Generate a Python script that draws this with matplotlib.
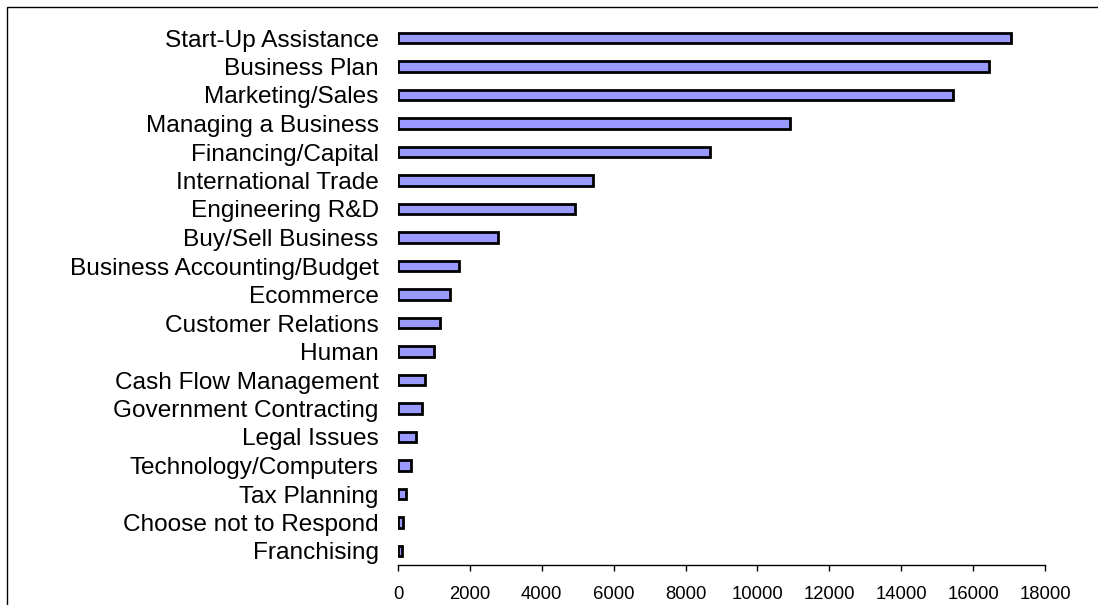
import matplotlib
matplotlib.use("Agg")
import matplotlib.pyplot as plt
from matplotlib.patches import Rectangle

categories = [
    "Start-Up Assistance", "Business Plan", "Marketing/Sales", "Managing a Business",
    "Financing/Capital", "International Trade", "Engineering R&D", "Buy/Sell Business",
    "Business Accounting/Budget", "Ecommerce", "Customer Relations", "Human",
    "Cash Flow Management", "Government Contracting", "Legal Issues",
    "Technology/Computers", "Tax Planning", "Choose not to Respond", "Franchising",
]
values = [17050, 16450, 15450, 10900, 8680, 5420, 4920, 2770, 1710, 1450,
          1160, 1000, 750, 660, 500, 360, 230, 150, 100]
xticks = [0, 2000, 4000, 6000, 8000, 10000, 12000, 14000, 16000, 18000]

plt.rcParams['font.family'] = ['Liberation Sans', 'DejaVu Sans']

W, H = 1098, 605
fig = plt.figure(figsize=(W / 100, H / 100), dpi=100)
ax = fig.add_axes([398 / W, 1 - 565.25 / H, (1045 - 398) / W, (565.25 - 23.75) / H])

ypos = list(range(len(categories)))
ax.barh(ypos, values, height=0.37, color="#9999FF", edgecolor="black", linewidth=2)
ax.set_ylim(len(categories) - 0.5, -0.5)
ax.set_xlim(0, 18000)
ax.set_yticks(ypos)
ax.set_yticklabels(categories, fontsize=17.6)
ax.set_xticks(xticks)
ax.set_xticklabels([str(t) for t in xticks], fontsize=13.3)
ax.tick_params(axis="y", length=0, pad=14)
ax.tick_params(axis="x", direction="out", length=4, width=1, pad=11, color="black")
for s in ["top", "right", "left"]:
    ax.spines[s].set_visible(False)
ax.spines["bottom"].set_linewidth(1)

# outer chart border (cropped on right and bottom)
fig.patches.append(Rectangle((7 / W, -0.1), 1.2, 1 - 6.5 / H + 0.1, transform=fig.transFigure,
                             fill=False, edgecolor="black", linewidth=1))

fig.savefig("out.png", dpi=100)
